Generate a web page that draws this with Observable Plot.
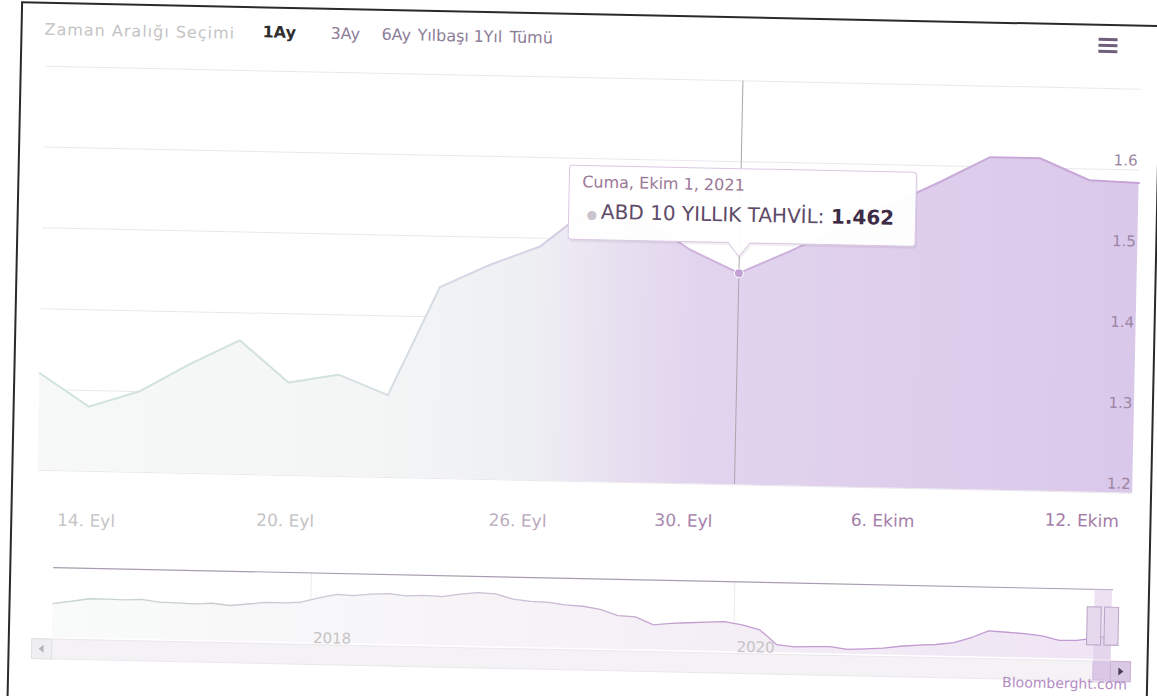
<!DOCTYPE html>
<html lang="tr">
<head>
<meta charset="utf-8">
<script src="https://cdn.jsdelivr.net/npm/d3@7"></script>
<script src="https://cdn.jsdelivr.net/npm/@observablehq/plot@0.6"></script>
<style>
  html, body { margin:0; padding:0; background:#fff; width:1157px; height:696px; overflow:hidden; }
  #page { position:absolute; left:0; top:0; width:1157px; height:696px; transform: rotate(1.2deg); transform-origin: 578px 348px; font-family: "DejaVu Sans", Verdana, sans-serif; }
  .frame { position:absolute; background:#2a2a2a; }
  #rs span { position:absolute; top:28px; font-size:16px; line-height:20px; white-space:nowrap; }
  #menu { position:absolute; left:1092px; top:27px; width:19px; }
  #menu div { height:3px; background:#6f5f7a; margin-bottom:3px; }
  #main, #nav { position:absolute; left:0; }
  #main { top:60px; }
  #nav { top:556px; }
  #credit { position:absolute; right:23px; top:665px; font-size:14px; line-height:16px; color:#b48cc4; }
</style>
</head>
<body>
<svg width="0" height="0" style="position:absolute">
  <defs>
    <linearGradient id="areaGrad" gradientUnits="userSpaceOnUse" x1="40" y1="0" x2="1135" y2="0">
      <stop offset="0" stop-color="#f6f9f7"/>
      <stop offset="0.30" stop-color="#f3f6f5"/>
      <stop offset="0.45" stop-color="#eeeff3"/>
      <stop offset="0.52" stop-color="#e8e1f0"/>
      <stop offset="0.60" stop-color="#e2d4ee"/>
      <stop offset="1" stop-color="#dac8ea"/>
    </linearGradient>
    <linearGradient id="lineGrad" gradientUnits="userSpaceOnUse" x1="40" y1="0" x2="1135" y2="0">
      <stop offset="0" stop-color="#cfe3dc"/>
      <stop offset="0.30" stop-color="#d4e0e2"/>
      <stop offset="0.45" stop-color="#d6d1e6"/>
      <stop offset="0.55" stop-color="#ceb5de"/>
      <stop offset="1" stop-color="#c7a4d8"/>
    </linearGradient>
    <linearGradient id="txtGrad" gradientUnits="userSpaceOnUse" x1="40" y1="0" x2="1135" y2="0">
      <stop offset="0" stop-color="#c4c4c4"/>
      <stop offset="0.35" stop-color="#c3bfc5"/>
      <stop offset="0.50" stop-color="#b69db9"/>
      <stop offset="0.60" stop-color="#a67fab"/>
      <stop offset="1" stop-color="#a07aa5"/>
    </linearGradient>
    <linearGradient id="navAreaGrad" gradientUnits="userSpaceOnUse" x1="58" y1="0" x2="1117" y2="0">
      <stop offset="0" stop-color="#f9fbfa"/>
      <stop offset="0.5" stop-color="#f6f2f7"/>
      <stop offset="1" stop-color="#efe4f4"/>
    </linearGradient>
    <linearGradient id="navLineGrad" gradientUnits="userSpaceOnUse" x1="58" y1="0" x2="1117" y2="0">
      <stop offset="0" stop-color="#c8d6d1"/>
      <stop offset="0.45" stop-color="#cbbfd6"/>
      <stop offset="0.6" stop-color="#c49fd0"/>
      <stop offset="1" stop-color="#c29ad4"/>
    </linearGradient>
  </defs>
</svg>
<div id="page">
  <div class="frame" style="left:14px;top:14px;width:2px;height:700px"></div>
  <div class="frame" style="left:14px;top:13px;width:1160px;height:2px"></div>
  <div class="frame" style="left:1153px;top:14px;width:2px;height:700px"></div>
  <div id="rs"></div>
  <div id="menu"><div></div><div></div><div></div></div>
  <div id="main"></div>
  <div id="nav"></div>
  <div id="credit"></div>
</div>
<script>
// ---------- data ----------
const rangeLabel = "Zaman Aralığı Seçimi";
const rangeButtons = ["1Ay", "3Ay", "6Ay", "Yılbaşı", "1Yıl", "Tümü"];
const activeButton = "1Ay";
const seriesName = "ABD 10 YILLIK TAHVİL";
const creditText = "Bloomberght.com";

const dates = ["2021-09-13","2021-09-14","2021-09-15","2021-09-16","2021-09-17",
  "2021-09-20","2021-09-21","2021-09-22","2021-09-23","2021-09-24",
  "2021-09-27","2021-09-28","2021-09-29","2021-09-30","2021-10-01",
  "2021-10-04","2021-10-05","2021-10-06","2021-10-07","2021-10-08",
  "2021-10-11","2021-10-12","2021-10-13"];
const yields = [1.32,1.28,1.30,1.335,1.366,
  1.315,1.326,1.302,1.437,1.466,
  1.49,1.54,1.53,1.49,1.462,
  1.49,1.52,1.55,1.58,1.612,
  1.612,1.586,1.584];

const yTicks = [1.2, 1.3, 1.4, 1.5, 1.6, 1.7];
const xTickDates = ["2021-09-14","2021-09-20","2021-09-26","2021-09-30","2021-10-06","2021-10-12"];
const xTickLabels = ["14. Eyl","20. Eyl","26. Eyl","30. Eyl","6. Ekim","12. Ekim"];

const tipDate = "2021-10-01";
const tipDateLabel = "Cuma, Ekim 1, 2021";

const navDates = ["2016-10-14","2016-11-15","2016-12-15",
  "2017-01-15","2017-02-15","2017-03-15","2017-04-15","2017-05-15","2017-06-15",
  "2017-07-15","2017-08-15","2017-09-15","2017-10-15","2017-11-15","2017-12-15",
  "2018-01-15","2018-02-15","2018-03-15","2018-04-15","2018-05-15","2018-06-15",
  "2018-07-15","2018-08-15","2018-09-15","2018-10-15","2018-11-15","2018-12-15",
  "2019-01-15","2019-02-15","2019-03-15","2019-04-15","2019-05-15","2019-06-15",
  "2019-07-15","2019-08-15","2019-09-15","2019-10-15","2019-11-15","2019-12-15",
  "2020-01-15","2020-02-15","2020-03-15","2020-04-15","2020-05-15","2020-06-15",
  "2020-07-15","2020-08-15","2020-09-15","2020-10-15","2020-11-15","2020-12-15",
  "2021-01-15","2021-02-15","2021-03-15","2021-04-15","2021-05-15","2021-06-15",
  "2021-07-15","2021-08-15","2021-09-15","2021-10-13"];
const navYields = [2.10,2.25,2.40,
  2.40,2.38,2.42,2.30,2.28,2.25,
  2.30,2.20,2.30,2.40,2.40,2.45,
  2.70,2.90,2.85,2.95,3.00,2.90,
  2.95,2.90,3.05,3.15,3.10,2.85,
  2.75,2.72,2.60,2.55,2.40,2.10,
  2.05,1.65,1.75,1.80,1.85,1.90,
  1.75,1.50,0.75,0.65,0.68,0.70,
  0.58,0.62,0.68,0.80,0.88,0.93,
  1.05,1.35,1.70,1.65,1.60,1.50,
  1.28,1.30,1.45,1.58];
const navTickDates = ["2018-01-01","2020-01-01"];
const navTickLabels = ["2018","2020"];

// ---------- helpers ----------
const utc = s => new Date(s + "T00:00:00Z");
const T = dates.map(d => +utc(d));
function ordinal(s) {
  const t = +utc(s);
  for (let i = 0; i < T.length - 1; i++) {
    if (t >= T[i] && t <= T[i + 1]) return i + (t - T[i]) / (T[i + 1] - T[i]);
  }
  return t < T[0] ? 0 : T.length - 1;
}
const FONT = "DejaVu Sans, Verdana, sans-serif";
const TILT = Math.tan(1.2 * Math.PI / 180);   // counter the page tilt for the axis label row
const PIVOT_X = 578;

// ---------- range selector ----------
const rs = document.getElementById("rs");
const rsItems = [{text: rangeLabel, left: 38, color: "#c4c4c4", weight: "normal", ls: "1px"}]
  .concat(rangeButtons.map((b, k) => ({
    text: b,
    left: [256, 324, 375, 411, 467, 503][k],
    color: b === activeButton ? "#2e2e2e" : "#8d7c98",
    weight: b === activeButton ? "bold" : "normal",
    ls: "0px"
  })));
rsItems.forEach((it, k) => {
  const s = document.createElement("span");
  s.textContent = it.text;
  s.style.left = it.left + "px";
  s.style.top = (k === 0 ? 31 : 29) + "px";
  s.style.color = it.color;
  s.style.fontWeight = it.weight;
  s.style.letterSpacing = it.ls;
  rs.appendChild(s);
});
document.getElementById("credit").textContent = creditText;

// ---------- main chart ----------
const series = dates.map((d, i) => ({i, d, v: yields[i]}));
const tipI = dates.indexOf(tipDate);
const tipV = yields[tipI];
const xTicks = xTickDates.map((d, k) => ({pos: ordinal(d), label: xTickLabels[k]}));

function tooltipMark(index, scales) {
  const px = scales.x(tipI), py = scales.y(tipV);
  const w = 347, h = 74, left = px - 171, bottom = py - 30, top = bottom - h;
  const r = 3;
  const p = `M${left + r},${top} H${left + w - r} Q${left + w},${top} ${left + w},${top + r} V${bottom - r} Q${left + w},${bottom} ${left + w - r},${bottom} H${px + 11} L${px},${bottom + 14} L${px - 11},${bottom} H${left + r} Q${left},${bottom} ${left},${bottom - r} V${top + r} Q${left},${top} ${left + r},${top} Z`;
  const g = d3.create("svg:g").attr("text-anchor", "start");
  g.append("path").attr("d", p).attr("transform", "translate(1.5,2.5)").attr("fill", "rgba(120,100,130,0.10)");
  g.append("path").attr("d", p).attr("fill", "rgba(255,255,255,0.96)").attr("stroke", "#dac8e3").attr("stroke-width", 1);
  g.append("text").attr("x", left + 13).attr("y", top + 22).attr("font-size", 16).attr("text-anchor", "start")
    .attr("font-family", FONT).attr("fill", "#9a7898").text(tipDateLabel);
  const t = g.append("text").attr("x", left + 18).attr("y", top + 53).attr("font-size", 20)
    .attr("text-anchor", "start").attr("font-family", FONT);
  t.append("tspan").attr("fill", "#cbc4cf").attr("font-size", 12).text("\u25CF ");
  t.append("tspan").attr("fill", "#5d4a68").text(seriesName + ": ");
  t.append("tspan").attr("fill", "#3c2c47").attr("font-weight", "bold").text(tipV.toFixed(3));
  return g.node();
}

function xLabels(index, scales, values, dims) {
  const base = dims.height - dims.marginBottom + 40;
  const g = d3.create("svg:g").attr("font-size", 17).attr("text-anchor", "middle")
    .attr("font-family", FONT).attr("fill", "url(#txtGrad)");
  xTicks.forEach(t => {
    const x = scales.x(t.pos);
    g.append("text").attr("x", x).attr("y", base + (PIVOT_X - x) * TILT).attr("dy", "0.32em").text(t.label);
  });
  return g.node();
}

const main = Plot.plot({
  width: 1157, height: 490,
  marginLeft: 40, marginRight: 22, marginTop: 17, marginBottom: 69,
  x: {type: "linear", domain: [0, dates.length - 1], axis: null},
  y: {domain: [yTicks[0], yTicks[yTicks.length - 1]], axis: null},
  style: {background: "transparent", overflow: "visible", fontFamily: FONT},
  marks: [
    Plot.ruleY(yTicks, {stroke: "#ebe8ed", strokeWidth: 1}),
    Plot.areaY(series, {x: "i", y1: yTicks[0], y2: "v", fill: "url(#areaGrad)"}),
    Plot.lineY(series, {x: "i", y: "v", stroke: "url(#lineGrad)", strokeWidth: 2}),
    Plot.ruleX([tipI], {stroke: "#a9a6ab", strokeWidth: 1}),
    Plot.text(yTicks.slice(0, -1), {y: d => d, frameAnchor: "right", textAnchor: "end", dx: -2, dy: -9,
      text: d => d.toFixed(1), fill: "#9c84a4", fontSize: 15}),
    xLabels,
    Plot.dot([series[tipI]], {x: "i", y: "v", r: 4.5, fill: "#c3a2d3", stroke: "#fff", strokeWidth: 1}),
    tooltipMark
  ]
});
document.getElementById("main").appendChild(main);

// ---------- navigator ----------
const navData = navDates.map((d, k) => ({d: utc(d), v: navYields[k]}));
const vMin = d3.min(navYields), vMax = d3.max(navYields), vR = vMax - vMin;
const selStart = utc(dates[0]), selEnd = utc(dates[dates.length - 1]);
const navTicks = navTickDates.map((d, k) => ({d: utc(d), label: navTickLabels[k]}));

function scrollbar(index, scales, values, dims) {
  const {width, height, marginLeft, marginRight, marginBottom} = dims;
  const sh = 20, y0 = height - marginBottom + 2;
  const x0 = marginLeft - sh, x1 = width - marginRight + sh;
  const g = d3.create("svg:g");
  g.append("rect").attr("x", x0).attr("y", y0).attr("width", x1 - x0).attr("height", sh)
    .attr("fill", "#f4f2f5").attr("stroke", "#ebe7ed");
  const a = scales.x(selStart), b = scales.x(selEnd);
  g.append("rect").attr("x", a).attr("y", y0 + 1).attr("width", Math.max(b - a, 8)).attr("height", sh - 2)
    .attr("fill", "#dccbe6").attr("stroke", "#cdb6da");
  [[x0, -1], [x1 - sh, 1]].forEach(([bx, dir]) => {
    g.append("rect").attr("x", bx).attr("y", y0).attr("width", sh).attr("height", sh)
      .attr("fill", dir > 0 ? "#dac9e4" : "#efeef0").attr("stroke", dir > 0 ? "#c5b0d2" : "#e3e0e5");
    const cx = bx + sh / 2, cy = y0 + sh / 2;
    g.append("path").attr("d", `M${cx - 2 * dir},${cy - 4} L${cx + 3 * dir},${cy} L${cx - 2 * dir},${cy + 4} Z`)
      .attr("fill", dir > 0 ? "#4a3d52" : "#b9b4bc");
  });
  return g.node();
}

const nav = Plot.plot({
  width: 1157, height: 140,
  marginLeft: 58, marginRight: 40, marginTop: 22, marginBottom: 48,
  x: {type: "utc", domain: [navData[0].d, selEnd], axis: null},
  y: {domain: [vMin - 0.1 * vR, vMax + 0.33 * vR], axis: null},
  style: {background: "transparent", overflow: "visible", fontFamily: FONT},
  marks: [
    Plot.ruleX(navTicks, {x: "d", stroke: "#ecebed"}),
    Plot.areaY(navData, {x: "d", y1: vMin - 0.1 * vR, y2: "v", fill: "url(#navAreaGrad)"}),
    Plot.lineY(navData, {x: "d", y: "v", stroke: "url(#navLineGrad)", strokeWidth: 1.3}),
    Plot.frame({anchor: "top", stroke: "#a89cae", strokeWidth: 1.2}),
    scrollbar,
    Plot.text(navTicks, {x: "d", frameAnchor: "bottom", dx: 3, dy: 0, textAnchor: "start", text: "label",
      fill: "url(#txtGrad)", fontSize: 15}),
    Plot.rect([{a: selStart, b: selEnd}], {x1: "a", x2: "b", insetBottom: -24, fill: "#d9c6e6", fillOpacity: 0.5}),
    Plot.rect([selStart, selEnd].map(d => ({d})), {x1: "d", x2: "d", insetLeft: -7, insetRight: -7,
      insetTop: 18, insetBottom: 14, fill: "#e6d9ee", stroke: "#b9a3c6"})
  ]
});
document.getElementById("nav").appendChild(nav);
</script>
</body>
</html>
